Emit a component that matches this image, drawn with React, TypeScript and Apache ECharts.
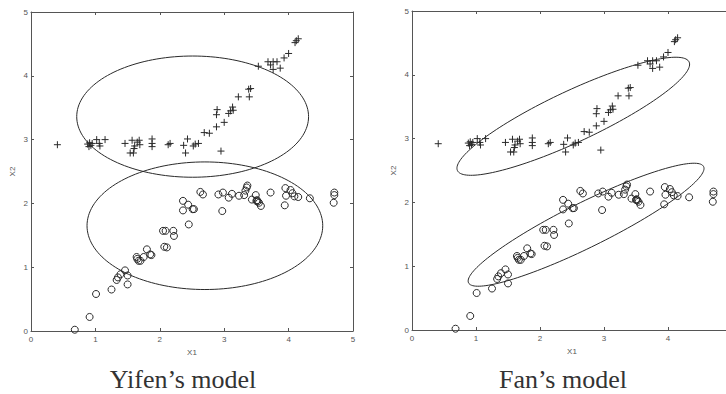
import React, { useEffect, useRef } from "react";
import * as echarts from "echarts";

// Data points (X1, X2) – class "+" (upper cluster)
const plusPoints: number[][] = [
  [0.41, 2.92],
  [0.88, 2.93], [0.91, 2.95], [0.93, 2.91], [0.90, 2.89], [0.95, 2.94],
  [1.02, 3.00], [1.07, 2.90], [1.06, 2.94],
  [1.15, 3.00],
  [1.46, 2.94],
  [1.54, 2.79], [1.59, 2.79],
  [1.57, 2.99], [1.61, 2.90], [1.68, 2.99], [1.69, 2.92], [1.60, 2.86], [1.65, 2.96],
  [1.88, 3.01], [1.88, 2.94], [1.88, 2.89],
  [2.13, 2.92], [2.16, 2.94],
  [2.37, 2.91], [2.43, 3.01], [2.40, 2.79],
  [2.52, 2.90], [2.55, 2.93], [2.60, 2.94],
  [2.69, 3.11], [2.77, 3.10],
  [2.88, 3.20],
  [2.88, 3.39], [2.89, 3.47],
  [2.95, 2.82],
  [3.00, 3.27],
  [3.07, 3.41], [3.10, 3.45], [3.13, 3.51], [3.14, 3.46],
  [3.22, 3.67],
  [3.38, 3.79], [3.41, 3.80], [3.39, 3.67],
  [3.53, 4.15],
  [3.68, 4.22], [3.72, 4.17], [3.76, 4.22], [3.82, 4.22], [3.87, 4.12], [3.76, 4.10],
  [3.93, 4.28], [4.00, 4.35],
  [4.10, 4.52], [4.12, 4.55], [4.15, 4.58],
];

// Data points (X1, X2) – class "o" (lower cluster)
const circlePoints: number[][] = [
  [0.68, 0.02], [0.91, 0.22], [1.01, 0.58], [1.25, 0.65],
  [1.33, 0.80], [1.35, 0.84], [1.39, 0.89], [1.46, 0.95], [1.50, 0.87], [1.50, 0.73],
  [1.64, 1.16], [1.65, 1.13], [1.67, 1.10], [1.70, 1.10], [1.75, 1.16], [1.80, 1.28], [1.85, 1.20], [1.87, 1.19],
  [2.05, 1.57], [2.09, 1.57], [2.07, 1.32], [2.11, 1.31], [2.21, 1.57], [2.22, 1.49],
  [2.36, 2.04], [2.36, 1.89], [2.44, 1.98], [2.51, 1.91], [2.53, 1.91], [2.45, 1.67],
  [2.63, 2.18], [2.67, 2.14],
  [2.91, 2.14], [2.98, 2.17], [2.97, 1.88], [3.07, 2.09], [3.12, 2.15],
  [3.23, 2.12], [3.31, 2.13], [3.33, 2.20], [3.35, 2.25], [3.36, 2.28], [3.43, 2.06],
  [3.49, 2.13], [3.50, 2.04], [3.52, 2.03], [3.54, 2.01], [3.51, 2.05], [3.57, 1.96],
  [3.72, 2.17],
  [3.95, 2.24], [3.96, 2.12], [3.94, 1.97], [4.03, 2.21], [4.06, 2.16], [4.09, 2.11], [4.15, 2.10],
  [4.33, 2.08],
  [4.71, 2.17], [4.71, 2.13], [4.70, 2.01],
];

// Model ellipses: [centerX1, centerX2, semiMajor, semiMinor, angleDeg]
const yifenEllipses: number[][] = [
  [2.51, 3.36, 1.80, 0.95, 0],
  [2.70, 1.65, 1.83, 1.00, 0],
];
const fanEllipses: number[][] = [
  [2.52, 3.35, 2.0, 0.40, 25.2],
  [2.72, 1.65, 2.05, 0.35, 26.4],
];

const axisTicks = [0, 1, 2, 3, 4, 5];
const titles = ["Yifen\u2019s model", "Fan\u2019s model"];
const axisNames = ["X1", "X2"];

const INK = "#2a2a2a";
const AXIS = "#555";
const LABEL = "#555";

const plusSymbol = "path://M5,0L5,10M0,5L10,5";

function makeAxes(gridIndex: number, showMaxX: boolean) {
  const common = {
    type: "value" as const,
    gridIndex,
    min: axisTicks[0],
    max: axisTicks[axisTicks.length - 1],
    interval: 1,
    splitLine: { show: false },
    axisLine: { show: true, onZero: false, lineStyle: { color: AXIS, width: 1 } },
    axisTick: { show: true, inside: true, length: 3, lineStyle: { color: AXIS } },
  };
  const x = [
    {
      ...common,
      position: "bottom",
      name: axisNames[0],
      nameLocation: "middle",
      nameGap: 17,
      nameTextStyle: { fontSize: 8, color: LABEL, fontFamily: "Liberation Sans" },
      axisLabel: {
        fontSize: 8,
        color: LABEL,
        margin: 4,
        fontFamily: "Liberation Sans",
        showMaxLabel: showMaxX,
      },
    },
    { ...common, position: "top", axisLabel: { show: false } },
  ];
  const y = [
    {
      ...common,
      position: "left",
      name: axisNames[1],
      nameLocation: "middle",
      nameRotate: 90,
      nameGap: 15,
      nameTextStyle: { fontSize: 8, color: LABEL, fontFamily: "Liberation Sans" },
      axisLabel: { fontSize: 8, color: LABEL, margin: 3, fontFamily: "Liberation Sans" },
    },
    { ...common, position: "right", axisLabel: { show: false } },
  ];
  return { x, y };
}

function ellipseSeries(data: number[][], xAxisIndex: number, yAxisIndex: number) {
  return {
    type: "custom",
    xAxisIndex,
    yAxisIndex,
    silent: true,
    data,
    renderItem: (_params: any, api: any) => {
      const cx = api.value(0);
      const cy = api.value(1);
      const a = api.value(2);
      const b = api.value(3);
      const th = (api.value(4) * Math.PI) / 180;
      const pts: number[][] = [];
      const n = 160;
      for (let i = 0; i < n; i++) {
        const t = (i / n) * Math.PI * 2;
        const dx = a * Math.cos(t) * Math.cos(th) - b * Math.sin(t) * Math.sin(th);
        const dy = a * Math.cos(t) * Math.sin(th) + b * Math.sin(t) * Math.cos(th);
        pts.push(api.coord([cx + dx, cy + dy]));
      }
      return {
        type: "polygon",
        shape: { points: pts },
        style: { fill: "none", stroke: INK, lineWidth: 1 },
      };
    },
  };
}

function scatterSeries(kind: "plus" | "circle", xAxisIndex: number, yAxisIndex: number) {
  return {
    type: "scatter",
    xAxisIndex,
    yAxisIndex,
    data: kind === "plus" ? plusPoints : circlePoints,
    symbol: kind === "plus" ? plusSymbol : "circle",
    symbolSize: 7,
    itemStyle: { color: "transparent", borderColor: INK, borderWidth: 1, opacity: 1 },
    silent: true,
  };
}

export default function App() {
  const ref = useRef<HTMLDivElement>(null);
  useEffect(() => {
    if (!ref.current) return;
    const chart = echarts.init(ref.current, undefined, { renderer: "svg" });
    const a0 = makeAxes(0, true);
    const a1 = makeAxes(1, false);
    chart.setOption({
      animation: false,
      backgroundColor: "#ffffff",
      grid: [
        { left: 31, top: 12, width: 322, height: 319 },
        { left: 412, top: 11, width: 320, height: 319 },
      ],
      xAxis: [...a0.x, ...a1.x],
      yAxis: [...a0.y, ...a1.y],
      series: [
        ellipseSeries(yifenEllipses, 0, 0),
        scatterSeries("plus", 0, 0),
        scatterSeries("circle", 0, 0),
        ellipseSeries(fanEllipses, 2, 2),
        scatterSeries("plus", 2, 2),
        scatterSeries("circle", 2, 2),
      ],
      graphic: [
        {
          type: "text",
          x: 183,
          y: 379,
          style: {
            text: titles[0],
            font: "26px 'Liberation Serif'",
            fill: "#333",
            textAlign: "center",
            textVerticalAlign: "middle",
          },
        },
        {
          type: "text",
          x: 563,
          y: 379,
          style: {
            text: titles[1],
            font: "26px 'Liberation Serif'",
            fill: "#333",
            textAlign: "center",
            textVerticalAlign: "middle",
          },
        },
      ],
    });
    return () => chart.dispose();
  }, []);
  return (
    <div
      style={{
        position: "absolute",
        left: 0,
        top: 0,
        width: 726,
        height: 394,
        overflow: "hidden",
      }}
    >
      <div ref={ref} style={{ width: 760, height: 394 }} />
    </div>
  );
}
